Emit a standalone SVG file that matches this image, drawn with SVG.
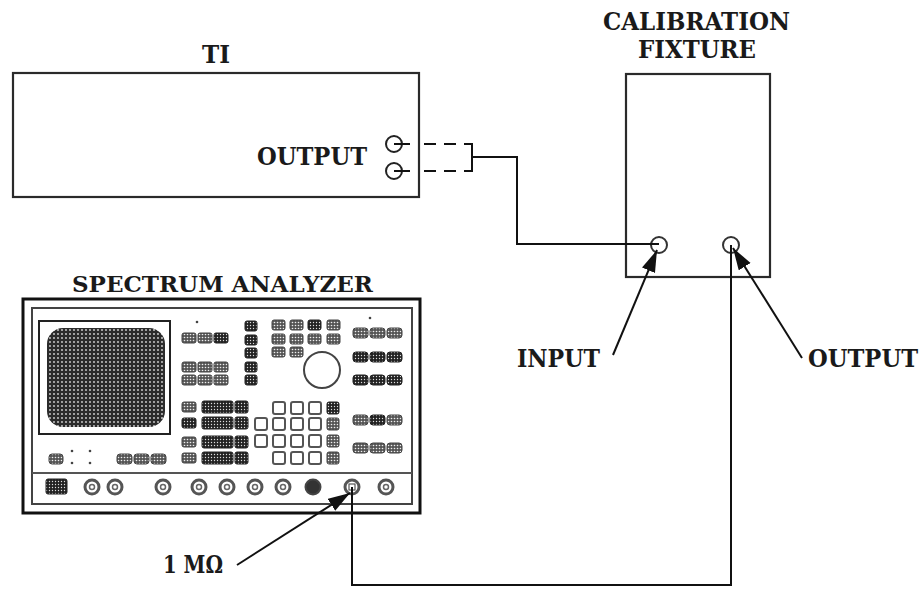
<svg xmlns="http://www.w3.org/2000/svg" width="924" height="592" viewBox="0 0 924 592">
<defs>
<style>
.lbl{font-family:"DejaVu Serif","Liberation Serif",serif;font-weight:bold;font-size:24px;fill:#1a1a1a}
.box{fill:none;stroke:#2a2a2a;stroke-width:2.2}
.wire{fill:none;stroke:#111;stroke-width:2}
.ptr{fill:none;stroke:#111;stroke-width:2;marker-end:url(#ah)}
.bd{fill:url(#pd);stroke:#222;stroke-width:1}
.bl{fill:url(#pl);stroke:#444;stroke-width:1}
.sq{fill:#fff;stroke:#555;stroke-width:2}
.jk{fill:#fff;stroke:#555;stroke-width:3}
.jki{fill:#fff;stroke:#666;stroke-width:1.5}
</style>
<pattern id="pd" width="3" height="3" patternUnits="userSpaceOnUse"><rect width="3" height="3" fill="#222"/><circle cx="1.5" cy="1.5" r="0.7" fill="#ddd"/></pattern>
<pattern id="pl" width="3" height="3" patternUnits="userSpaceOnUse"><rect width="3" height="3" fill="#555"/><circle cx="1.5" cy="1.5" r="0.8" fill="#eee"/></pattern>
<pattern id="mesh" width="4" height="4" patternUnits="userSpaceOnUse"><rect width="4" height="4" fill="#2b2b2b"/><circle cx="2" cy="2" r="0.9" fill="#d8d8d8"/></pattern>
<marker id="ah" markerUnits="userSpaceOnUse" markerWidth="24" markerHeight="16" refX="22" refY="7" orient="auto"><path d="M0,0 L22,7 L0,14 z" fill="#111"/></marker>
</defs>
<rect width="924" height="592" fill="#fff"/>

<g id="ti">
<rect class="box" x="13" y="73" width="406" height="124"/>
<text class="lbl" x="202" y="63" textLength="28" lengthAdjust="spacingAndGlyphs">TI</text>
<text class="lbl" x="257" y="165" textLength="110" lengthAdjust="spacingAndGlyphs">OUTPUT</text>
<circle cx="394" cy="144" r="8" fill="none" stroke="#222" stroke-width="2"/>
<circle cx="394" cy="171" r="8" fill="none" stroke="#222" stroke-width="2"/>
</g>

<g id="fixture">
<rect class="box" x="626" y="74" width="144" height="203"/>
<text class="lbl" x="603" y="30" textLength="187" lengthAdjust="spacingAndGlyphs">CALIBRATION</text>
<text class="lbl" x="638" y="58" textLength="118" lengthAdjust="spacingAndGlyphs">FIXTURE</text>
<circle cx="659" cy="245" r="8" fill="none" stroke="#333" stroke-width="2"/>
<circle cx="731" cy="245" r="8" fill="none" stroke="#333" stroke-width="2"/>
<text class="lbl" x="517" y="367" textLength="83" lengthAdjust="spacingAndGlyphs">INPUT</text>
<text class="lbl" x="808" y="367" textLength="110" lengthAdjust="spacingAndGlyphs">OUTPUT</text>
</g>

<g id="analyzer">
<text class="lbl" x="72" y="292" textLength="301" lengthAdjust="spacingAndGlyphs" style="font-size:22px">SPECTRUM ANALYZER</text>
<rect x="23" y="299" width="397" height="214" fill="none" stroke="#111" stroke-width="3"/>
<rect x="32" y="308" width="380" height="196" fill="none" stroke="#444" stroke-width="2"/>
<line x1="32" y1="473" x2="412" y2="473" stroke="#555" stroke-width="2"/>
<rect x="39" y="321" width="131" height="113" fill="none" stroke="#222" stroke-width="2"/>
<rect x="47" y="328" width="118" height="99" rx="16" fill="url(#mesh)"/>
<circle cx="197" cy="322" r="1.3" fill="#444"/>
<rect class="bl" x="182" y="333" width="14" height="10" rx="2"/><rect class="bl" x="198" y="333" width="14" height="10" rx="2"/><rect class="bd" x="214" y="333" width="14" height="10" rx="2"/>
<rect class="bl" x="182" y="362" width="14" height="10" rx="2"/><rect class="bl" x="198" y="362" width="14" height="10" rx="2"/><rect class="bl" x="214" y="362" width="14" height="10" rx="2"/>
<rect class="bl" x="182" y="375" width="14" height="10" rx="2"/><rect class="bl" x="198" y="375" width="14" height="10" rx="2"/><rect class="bl" x="214" y="375" width="14" height="10" rx="2"/>
<rect class="bd" x="245" y="321" width="12" height="10" rx="2"/><rect class="bd" x="245" y="335" width="12" height="10" rx="2"/><rect class="bd" x="245" y="348" width="12" height="10" rx="2"/><rect class="bd" x="245" y="362" width="12" height="10" rx="2"/><rect class="bd" x="245" y="375" width="12" height="10" rx="2"/>
<rect class="bl" x="272" y="320" width="13" height="10" rx="2"/><rect class="bl" x="290" y="320" width="13" height="10" rx="2"/><rect class="bd" x="308" y="320" width="13" height="10" rx="2"/><rect class="bl" x="327" y="320" width="13" height="10" rx="2"/>
<rect class="bl" x="272" y="334" width="13" height="10" rx="2"/><rect class="bl" x="290" y="334" width="13" height="10" rx="2"/><rect class="bl" x="308" y="334" width="13" height="10" rx="2"/><rect class="bl" x="327" y="334" width="13" height="10" rx="2"/>
<rect class="bl" x="272" y="347" width="13" height="10" rx="2"/><rect class="bl" x="290" y="347" width="13" height="10" rx="2"/>
<circle cx="322" cy="370" r="18" fill="none" stroke="#444" stroke-width="2"/>
<circle cx="370" cy="318" r="1.3" fill="#444"/>
<rect class="bl" x="353" y="328" width="15" height="10" rx="3"/><rect class="bl" x="370" y="328" width="15" height="10" rx="3"/><rect class="bl" x="387" y="328" width="15" height="10" rx="3"/>
<rect class="bd" x="353" y="352" width="15" height="10" rx="3"/><rect class="bd" x="370" y="352" width="15" height="10" rx="3"/><rect class="bd" x="387" y="352" width="15" height="10" rx="3"/>
<rect class="bd" x="353" y="375" width="15" height="10" rx="3"/><rect class="bd" x="370" y="375" width="15" height="10" rx="3"/><rect class="bd" x="387" y="375" width="15" height="10" rx="3"/>
<rect class="bl" x="353" y="415" width="15" height="10" rx="3"/><rect class="bd" x="370" y="415" width="15" height="10" rx="3"/><rect class="bl" x="387" y="415" width="15" height="10" rx="3"/>
<rect class="bl" x="353" y="443" width="15" height="10" rx="3"/><rect class="bl" x="370" y="443" width="15" height="10" rx="3"/><rect class="bl" x="387" y="443" width="15" height="10" rx="3"/>
<rect class="bl" x="182" y="402" width="14" height="10" rx="2"/><rect class="bd" x="202" y="401" width="31" height="12" rx="2"/><rect class="bd" x="235" y="401" width="13" height="12" rx="2"/>
<rect class="bd" x="182" y="418" width="14" height="10" rx="2"/><rect class="bd" x="202" y="417" width="31" height="12" rx="2"/><rect class="bd" x="235" y="417" width="13" height="12" rx="2"/>
<rect class="bl" x="182" y="437" width="14" height="10" rx="2"/><rect class="bd" x="202" y="436" width="31" height="12" rx="2"/><rect class="bd" x="235" y="436" width="13" height="12" rx="2"/>
<rect class="bl" x="182" y="453" width="14" height="10" rx="2"/><rect class="bd" x="202" y="452" width="31" height="12" rx="2"/><rect class="bd" x="235" y="452" width="13" height="12" rx="2"/>
<rect class="sq" x="273" y="402" width="12" height="12" rx="2"/><rect class="sq" x="291" y="402" width="12" height="12" rx="2"/><rect class="sq" x="309" y="402" width="12" height="12" rx="2"/><rect class="bd" x="327" y="402" width="12" height="12" rx="2"/>
<rect class="sq" x="255" y="418" width="12" height="12" rx="2"/><rect class="sq" x="273" y="418" width="12" height="12" rx="2"/><rect class="sq" x="291" y="418" width="12" height="12" rx="2"/><rect class="sq" x="309" y="418" width="12" height="12" rx="2"/><rect class="bl" x="327" y="418" width="12" height="12" rx="2"/>
<rect class="sq" x="255" y="435" width="12" height="12" rx="2"/><rect class="sq" x="273" y="435" width="12" height="12" rx="2"/><rect class="sq" x="291" y="435" width="12" height="12" rx="2"/><rect class="sq" x="309" y="435" width="12" height="12" rx="2"/><rect class="bl" x="327" y="435" width="12" height="12" rx="2"/>
<rect class="sq" x="273" y="452" width="12" height="12" rx="2"/><rect class="sq" x="291" y="452" width="12" height="12" rx="2"/><rect class="sq" x="309" y="452" width="12" height="12" rx="2"/><rect class="bl" x="327" y="452" width="12" height="12" rx="2"/>
<rect class="bl" x="49" y="454" width="14" height="10" rx="3"/>
<circle cx="72" cy="451" r="1.3" fill="#444"/><circle cx="72" cy="463" r="1.3" fill="#444"/><circle cx="90" cy="451" r="1.3" fill="#444"/><circle cx="90" cy="463" r="1.3" fill="#444"/>
<rect class="bl" x="117" y="454" width="15" height="10" rx="3"/><rect class="bl" x="134" y="454" width="15" height="10" rx="3"/><rect class="bl" x="151" y="454" width="15" height="10" rx="3"/>
<rect class="bd" x="46" y="479" width="21" height="15" rx="2"/>
<circle class="jk" cx="92" cy="487" r="7"/><circle class="jki" cx="92" cy="487" r="2.5"/>
<circle class="jk" cx="115" cy="487" r="7"/><circle class="jki" cx="115" cy="487" r="2.5"/>
<circle class="jk" cx="163" cy="487" r="7"/><circle class="jki" cx="163" cy="487" r="2.5"/>
<circle class="jk" cx="199" cy="487" r="7"/><circle class="jki" cx="199" cy="487" r="2.5"/>
<circle class="jk" cx="227" cy="487" r="7"/><circle class="jki" cx="227" cy="487" r="2.5"/>
<circle class="jk" cx="255" cy="487" r="7"/><circle class="jki" cx="255" cy="487" r="2.5"/>
<circle class="jk" cx="283" cy="487" r="7"/><circle class="jki" cx="283" cy="487" r="2.5"/>
<circle cx="313" cy="487" r="7.5" fill="#333" stroke="#444" stroke-width="2"/>
<circle class="jk" cx="352" cy="487" r="7"/><rect x="349" y="484" width="6" height="6" fill="#fff" stroke="#555" stroke-width="1.2"/>
<circle class="jk" cx="386" cy="487" r="7"/><circle class="jki" cx="386" cy="487" r="2.5"/>
<text class="lbl" x="163" y="573" textLength="60" lengthAdjust="spacingAndGlyphs">1 MΩ</text>
</g>

<g id="connectors">
<line x1="394" y1="144" x2="410" y2="144" class="wire"/>
<line x1="394" y1="171" x2="410" y2="171" class="wire"/>
<line x1="424" y1="144" x2="472" y2="144" class="wire" stroke-dasharray="12 8"/>
<line x1="424" y1="171" x2="472" y2="171" class="wire" stroke-dasharray="12 8"/>
<path class="wire" d="M465,144 H472 V171 H465"/>
<path class="wire" d="M472,157 H517 V244 H659"/>
<path class="wire" d="M731,245 V585 H352 V487"/>
<line class="ptr" x1="613" y1="355" x2="657" y2="250"/>
<line class="ptr" x1="802" y1="358" x2="733" y2="248"/>
<line class="ptr" x1="237" y1="565" x2="350" y2="493"/>
</g>
</svg>
